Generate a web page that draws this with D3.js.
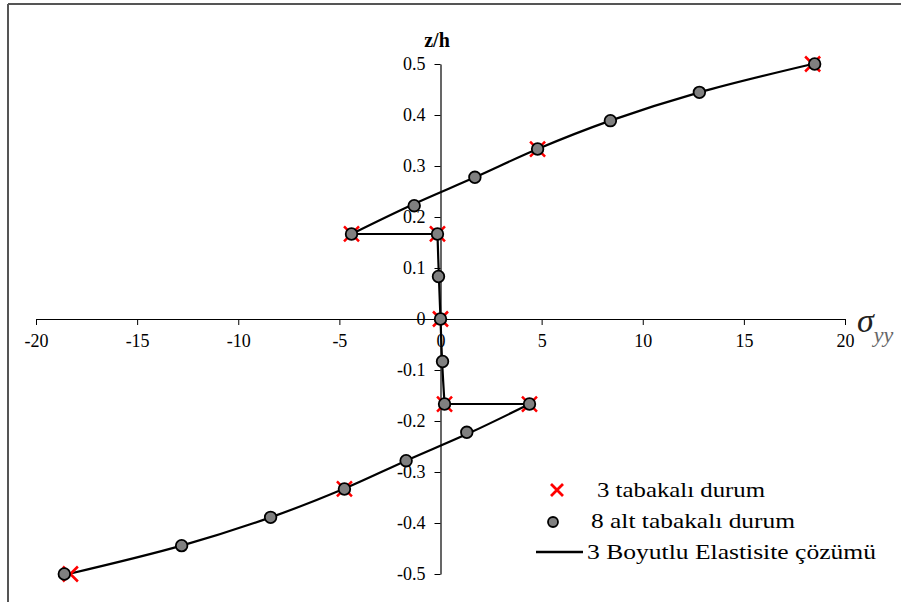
<!DOCTYPE html>
<html>
<head>
<meta charset="utf-8">
<script src="https://cdn.jsdelivr.net/npm/d3@7"></script>
<style>
body{margin:0;background:#fff;}
svg{display:block;}
</style>
</head>
<body>
<svg id="chart" width="901" height="602"></svg>
<script>
// tick labels
const xTicks = [-20, -15, -10, -5, 0, 5, 10, 15, 20];
const yTicks = [0.5, 0.4, 0.3, 0.2, 0.1, 0, -0.1, -0.2, -0.3, -0.4, -0.5];

// 3 tabakalı durum (red crosses): sigma, z/h
const threeS = [18.4, 4.8, -4.4, -0.15, 0, 0.2, 4.4, -4.75, -18.3];
const threeZ = [0.5, 0.3333, 0.1667, 0.1667, 0, -0.1667, -0.1667, -0.3333, -0.5];

// 8 alt tabakalı durum (gray circles)
const eightS = [18.5, 12.8, 8.4, 4.8, 1.7, -1.3, -4.4, -0.15, -0.1, 0, 0.1, 0.2, 4.4, 1.3, -1.7, -4.75, -8.4, -12.8, -18.6];
const eightZ = [0.5, 0.4444, 0.3889, 0.3333, 0.2778, 0.2222, 0.1667, 0.1667, 0.0833, 0, -0.0833, -0.1667, -0.1667, -0.2222, -0.2778, -0.3333, -0.3889, -0.4444, -0.5];

// 3 Boyutlu Elastisite çözümü (line), three smooth pieces joined by horizontal steps
const lineTopS = [18.4, 12.8, 8.4, 4.8, 1.7, -1.5, -4.4];
const lineTopZ = [0.5, 0.4444, 0.3889, 0.3333, 0.2778, 0.2222, 0.1667];
const lineMidS = [-0.15, -0.08, 0, 0.08, 0.2];
const lineMidZ = [0.1667, 0.0833, 0, -0.0833, -0.1667];
const lineBotS = [4.4, 1.5, -1.7, -4.8, -8.4, -12.8, -18.4];
const lineBotZ = [-0.1667, -0.2222, -0.2778, -0.3333, -0.3889, -0.4444, -0.5];

const SERIF = "'Liberation Serif', 'Times New Roman', 'DejaVu Serif', serif";
const svg = d3.select("#chart").style("font-family", SERIF);

// frame (left & top edge)
svg.append("line").attr("x1", 8).attr("y1", 4).attr("x2", 901).attr("y2", 4).attr("stroke", "#555").attr("stroke-width", 2);
svg.append("line").attr("x1", 8).attr("y1", 4).attr("x2", 8).attr("y2", 602).attr("stroke", "#555").attr("stroke-width", 2);

const x = d3.scaleLinear().domain([-20, 20]).range([36, 845]);
const y = d3.scaleLinear().domain([-0.5, 0.5]).range([574, 64]);

// x axis at z = 0
const xAxis = d3.axisBottom(x).tickValues(xTicks).tickSize(6).tickSizeOuter(0).tickFormat(d => String(d));
const gx = svg.append("g").attr("transform", `translate(0,${y(0)})`).call(xAxis);
gx.attr("font-family", null).attr("font-size", null);
gx.select(".domain").attr("stroke", "#000").attr("stroke-width", 1.2);
gx.selectAll(".tick line").attr("stroke", "#000");
gx.selectAll(".tick text").attr("fill", "#000").attr("dy", "1.05em")
  .style("font-family", SERIF).style("font-size", "18px");

// y axis at sigma = 0
const yAxis = d3.axisLeft(y).tickValues(yTicks).tickSize(6).tickSizeOuter(0).tickFormat(d => String(d));
const gy = svg.append("g").attr("transform", `translate(${x(0)},0)`).call(yAxis);
gy.attr("font-family", null).attr("font-size", null);
gy.select(".domain").attr("stroke", "#000").attr("stroke-width", 1.2);
gy.selectAll(".tick line").attr("stroke", "#000");
gy.selectAll(".tick text").attr("fill", "#000").attr("x", -15)
  .style("font-family", SERIF).style("font-size", "18px");

// axis titles
svg.append("text").attr("x", 437).attr("y", 47).attr("text-anchor", "middle")
  .style("font-size", "20px").attr("font-weight", "bold").style("font-family", SERIF).text("z/h");
const sig = svg.append("text").attr("x", 857).attr("y", 332).attr("fill", "#222").style("font-family", SERIF);
sig.append("tspan").style("font-size", "34px").attr("font-style", "italic").text("σ");
sig.append("tspan").style("font-size", "22px").attr("font-style", "italic").attr("dy", 10).attr("fill", "#666").text("yy");

// line
const toPts = (s, z) => s.map((v, i) => [x(v), y(z[i])]);
const curveGen = d3.line().curve(d3.curveCatmullRom.alpha(0.5));
const ptsTop = toPts(lineTopS, lineTopZ), ptsMid = toPts(lineMidS, lineMidZ), ptsBot = toPts(lineBotS, lineBotZ);
[ptsTop, ptsMid, ptsBot].forEach(p => svg.append("path").attr("d", curveGen(p)).attr("fill", "none").attr("stroke", "#000").attr("stroke-width", 2.2));
[[ptsTop[ptsTop.length - 1], ptsMid[0]], [ptsMid[ptsMid.length - 1], ptsBot[0]]].forEach(([a, b]) =>
  svg.append("line").attr("x1", a[0]).attr("y1", a[1]).attr("x2", b[0]).attr("y2", b[1]).attr("stroke", "#000").attr("stroke-width", 1.8));

// red crosses
const cs = 7.5;
const crossG = svg.append("g");
threeS.forEach((v, i) => {
  const cx = x(v), cy = y(threeZ[i]);
  crossG.append("path").attr("d", `M${cx - cs},${cy - cs}L${cx + cs},${cy + cs}M${cx - cs},${cy + cs}L${cx + cs},${cy - cs}`)
    .attr("stroke", "#ff0000").attr("stroke-width", 2.5);
});

// gray circles
svg.append("g").selectAll("circle").data(eightS).join("circle")
  .attr("cx", d => x(d)).attr("cy", (d, i) => y(eightZ[i])).attr("r", 5.8)
  .attr("fill", "#808080").attr("stroke", "#000").attr("stroke-width", 1.8);

// legend
const lg = svg.append("g").style("font-family", SERIF);
lg.append("path").attr("d", "M551,484L563,496M551,496L563,484").attr("stroke", "#ff0000").attr("stroke-width", 2.8);
lg.append("text").attr("x", 597).attr("y", 497).style("font-size", "22px").attr("textLength", 168).attr("lengthAdjust", "spacingAndGlyphs").text("3 tabakalı durum");
lg.append("circle").attr("cx", 553).attr("cy", 522).attr("r", 5).attr("fill", "#808080").attr("stroke", "#000").attr("stroke-width", 1.8);
lg.append("text").attr("x", 591).attr("y", 528).style("font-size", "22px").attr("textLength", 204).attr("lengthAdjust", "spacingAndGlyphs").text("8 alt tabakalı durum");
lg.append("line").attr("x1", 536).attr("y1", 552).attr("x2", 583).attr("y2", 552).attr("stroke", "#000").attr("stroke-width", 2.5);
lg.append("text").attr("x", 587).attr("y", 559).style("font-size", "22px").attr("textLength", 289).attr("lengthAdjust", "spacingAndGlyphs").text("3 Boyutlu Elastisite çözümü");
</script>
</body>
</html>
